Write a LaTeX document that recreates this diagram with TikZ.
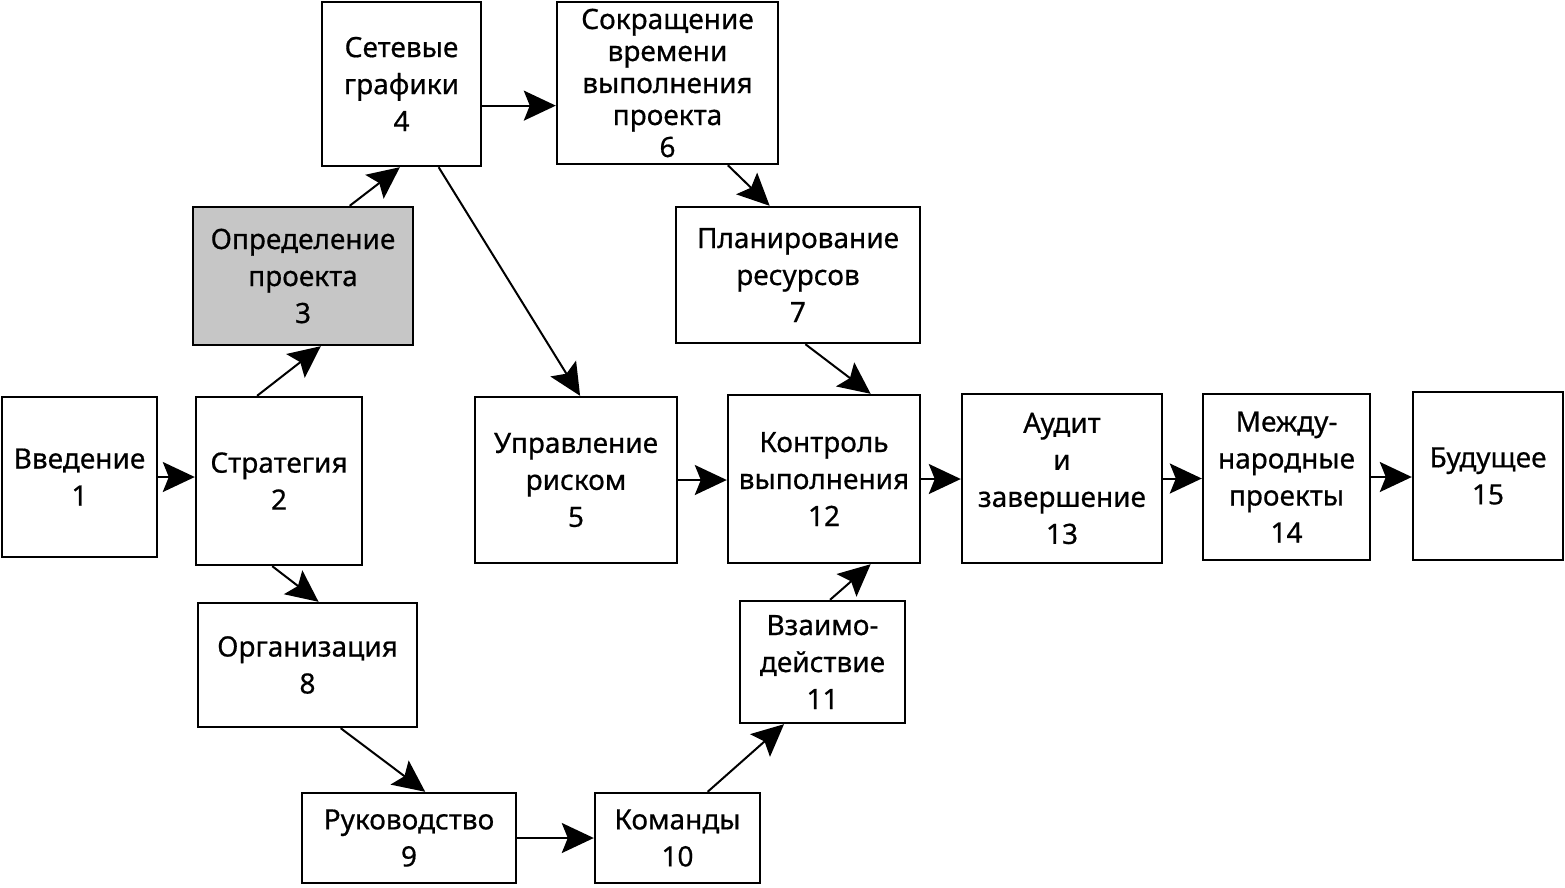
\documentclass[tikz,border=0pt]{standalone}
\usepackage{fontspec}
\setmainfont{Noto Sans}[FakeBold=0.6]
\usetikzlibrary{arrows.meta,calc}
\tikzset{
  box/.style={draw, line width=2.4pt, align=center, inner sep=2pt, font=\bfseries\fontsize{28}{37}\selectfont},
  conn/.style={line width=2pt, -{Stealth[length=32pt,width=30pt,inset=6pt]}},
}
\newcommand{\bx}[6]{% name, x1, y1, x2, y2, text
  \node[box, minimum width={(#4-#2)*1pt}, minimum height={(#5-#3)*1pt}] (#1) at ({(#2+#4)/2},{(#3+#5)/2}) {#6};}
\begin{document}
\begin{tikzpicture}[x=1pt,y=-1pt]
\useasboundingbox (0,0) rectangle (1565,887);
\bx{n1}{2}{397}{157}{557}{Введение\\1}
\bx{n2}{196}{397}{362}{565}{Стратегия\\2}
\begin{scope}[box/.append style={fill=gray!45}]
\bx{n3}{193}{207}{413}{345}{Определение\\проекта\\3}
\end{scope}
\bx{n4}{322}{2}{481}{166}{Сетевые\\графики\\4}
\begin{scope}[box/.append style={font=\bfseries\fontsize{28}{32}\selectfont}]
\bx{n6}{557}{2}{778}{164}{Сокращение\\времени\\выполнения\\проекта\\6}
\end{scope}
\bx{n7}{676}{207}{920}{343}{Планирование\\ресурсов\\7}
\bx{n5}{475}{397}{677}{563}{Управление\\риском\\5}
\bx{n12}{728}{395}{920}{563}{Контроль\\выполнения\\12}
\bx{n13}{962}{394}{1162}{563}{Аудит\\и\\завершение\\13}
\bx{n14}{1203}{394}{1370}{560}{Между-\\народные\\проекты\\14}
\bx{n15}{1413}{392}{1563}{560}{Будущее\\15}
\bx{n8}{198}{603}{417}{727}{Организация\\8}
\bx{n9}{302}{793}{516}{883}{Руководство\\9}
\bx{n10}{595}{793}{760}{883}{Команды\\10}
\bx{n11}{740}{601}{905}{723}{Взаимо-\\действие\\11}

\draw[conn] (n1.east) -- (n1.east -| n2.west);
\draw[conn] ($(n2.north west)!0.37!(n2.north east)$) -- ($(n3.south west)!0.58!(n3.south east)$);
\draw[conn] ($(n3.north west)!0.71!(n3.north east)$) -- ($(n4.south west)!0.49!(n4.south east)$);
\coordinate (a46) at ($(n4.north east)!0.63!(n4.south east)$);
\draw[conn] (a46) -- (a46 -| n6.west);
\draw[conn] ($(n4.south west)!0.73!(n4.south east)$) -- ($(n5.north west)!0.52!(n5.north east)$);
\draw[conn] ($(n6.south west)!0.77!(n6.south east)$) -- ($(n7.north west)!0.385!(n7.north east)$);
\draw[conn] ($(n7.south west)!0.53!(n7.south east)$) -- ($(n12.north west)!0.74!(n12.north east)$);
\draw[conn] (n5.east) -- (n5.east -| n12.west);
\draw[conn] (n12.east) -- (n12.east -| n13.west);
\draw[conn] (n13.east) -- (n13.east -| n14.west);
\draw[conn] (n14.east) -- (n14.east -| n15.west);
\draw[conn] ($(n2.south west)!0.46!(n2.south east)$) -- ($(n8.north west)!0.55!(n8.north east)$);
\draw[conn] ($(n8.south west)!0.65!(n8.south east)$) -- ($(n9.north west)!0.575!(n9.north east)$);
\draw[conn] (n9.east) -- (n9.east -| n10.west);
\draw[conn] ($(n10.north west)!0.68!(n10.north east)$) -- ($(n11.south west)!0.27!(n11.south east)$);
\draw[conn] ($(n11.north west)!0.545!(n11.north east)$) -- ($(n12.south west)!0.74!(n12.south east)$);
\end{tikzpicture}
\end{document}
